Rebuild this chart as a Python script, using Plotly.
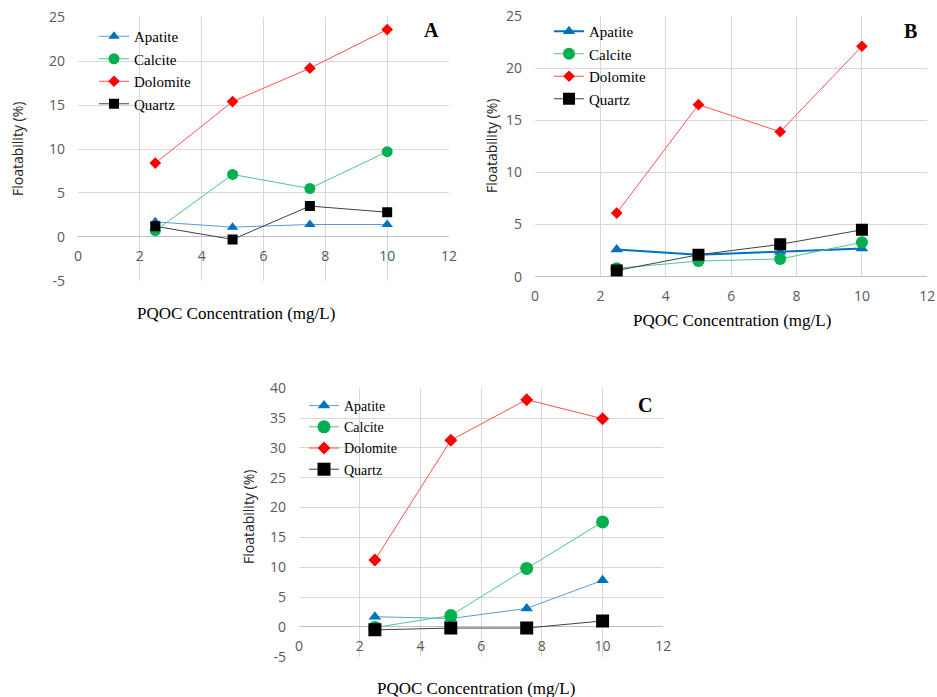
import plotly.graph_objects as go

W, H = 937, 697

x_conc = [2.5, 5, 7.5, 10]
series_names = ["Apatite", "Calcite", "Dolomite", "Quartz"]

# Panel A values
a_apatite = [1.7, 1.1, 1.4, 1.4]
a_calcite = [0.7, 7.1, 5.5, 9.7]
a_dolomite = [8.4, 15.4, 19.2, 23.6]
a_quartz = [1.2, -0.3, 3.5, 2.8]

# Panel B values
b_apatite = [2.6, 2.1, 2.4, 2.7]
b_calcite = [0.8, 1.5, 1.7, 3.3]
b_dolomite = [6.1, 16.5, 13.9, 22.1]
b_quartz = [0.6, 2.1, 3.1, 4.5]

# Panel C values
c_apatite = [1.7, 1.4, 3.1, 7.8]
c_calcite = [-0.1, 1.9, 9.8, 17.6]
c_dolomite = [11.2, 31.3, 38.1, 34.9]
c_quartz = [-0.5, -0.2, -0.2, 1.0]

x_ticks = [0, 2, 4, 6, 8, 10, 12]
x_tick_labels = ["0", "2", "4", "6", "8", "10", "12"]
a_y_ticks = [-5, 0, 5, 10, 15, 20, 25]
a_y_labels = ["-5", "0", "5", "10", "15", "20", "25"]
b_y_ticks = [0, 5, 10, 15, 20, 25]
b_y_labels = ["0", "5", "10", "15", "20", "25"]
c_y_ticks = [-5, 0, 5, 10, 15, 20, 25, 30, 35, 40]
c_y_labels = ["-5", "0", "5", "10", "15", "20", "25", "30", "35", "40"]

def px(x):
    return x / W

def py(y):
    return 1 - y / H

SERIF = "Liberation Serif"
SANS = "Open Sans"
GRID = "#D9D9D9"
TICKC = "#595959"

styles = {
    "Apatite": dict(mcolor="#0070C0", lcolor="#5B9BD5", symbol="triangle-up"),
    "Calcite": dict(mcolor="#00B050", lcolor="#4CC884", symbol="circle"),
    "Dolomite": dict(mcolor="#FF0000", lcolor="#FF5050", symbol="diamond"),
    "Quartz": dict(mcolor="#000000", lcolor="#404040", symbol="square"),
}

panels = [
    dict(key="A", data=[a_apatite, a_calcite, a_dolomite, a_quartz],
         sizes=[10, 11, 9, 10], widths=[1, 1, 1, 1], xa="x", ya="y", legend="legend"),
    dict(key="B", data=[b_apatite, b_calcite, b_dolomite, b_quartz],
         sizes=[11, 12, 9, 12], widths=[2, 1, 1, 1], xa="x2", ya="y2", legend="legend2"),
    dict(key="C", data=[c_apatite, c_calcite, c_dolomite, c_quartz],
         sizes=[11, 13, 10, 13], widths=[1, 1, 1, 1], xa="x3", ya="y3", legend="legend3"),
]

fig = go.Figure()
for p in panels:
    for name, vals, s, w in zip(series_names, p["data"], p["sizes"], p["widths"]):
        st = styles[name]
        lc = st["lcolor"] if not (p["key"] == "B" and name == "Apatite") else st["mcolor"]
        fig.add_trace(go.Scatter(
            x=x_conc, y=vals, name=name, mode="lines+markers",
            xaxis=p["xa"], yaxis=p["ya"], legend=p["legend"],
            line=dict(color=lc, width=w),
            marker=dict(color=st["mcolor"], symbol=st["symbol"], size=s, line=dict(width=0)),
        ))

tickfont = dict(family=SANS, size=14, color=TICKC)

def xaxis_cfg(x0, x1, anchor, position=None):
    d = dict(domain=[px(x0), px(x1)], range=[0, 12], tickvals=x_ticks, ticktext=x_tick_labels,
             showgrid=True, gridcolor=GRID, gridwidth=1, showline=False, zeroline=False, ticks="",
             tickfont=tickfont, ticklabelstandoff=9, fixedrange=True, automargin=False)
    if position is None:
        d["anchor"] = anchor
    else:
        d["anchor"] = "free"
        d["position"] = position
    return d

def yaxis_cfg(y_top, y_bot, rng, anchor, tv, tt):
    return dict(domain=[py(y_bot), py(y_top)], range=rng, tickvals=tv, ticktext=tt, showgrid=True,
                gridcolor=GRID, gridwidth=1, showline=False, zeroline=True,
                zerolinecolor="#BFBFBF", zerolinewidth=1, ticks="",
                tickfont=tickfont, ticklabelstandoff=12, anchor=anchor, fixedrange=True,
                automargin=False)

legend_common = dict(bgcolor="rgba(0,0,0,0)", borderwidth=0, xanchor="left", yanchor="top",
                     font=dict(family=SERIF, size=15, color="#000000"), tracegroupgap=0,
                     itemclick=False)

fig.update_layout(
    template="none",
    width=W, height=H, margin=dict(l=0, r=0, t=0, b=0, pad=0, autoexpand=False),
    paper_bgcolor="white", plot_bgcolor="white", showlegend=True,
    xaxis=xaxis_cfg(78, 449, "y", position=py(236.7)),
    yaxis=yaxis_cfg(17.3, 280.7, [-5, 25], "x", a_y_ticks, a_y_labels),
    xaxis2=xaxis_cfg(535, 927.3, "y2"),
    yaxis2=yaxis_cfg(16, 276.7, [0, 25], "x2", b_y_ticks, b_y_labels),
    xaxis3=xaxis_cfg(299, 663.3, "y3", position=py(627.3)),
    yaxis3=yaxis_cfg(388.3, 656.7, [-5, 40], "x3", c_y_ticks, c_y_labels),
    legend=dict(legend_common, x=px(94), y=py(20)),
    legend2=dict(legend_common, x=px(549), y=py(15)),
    legend3=dict(legend_common, x=px(304), y=py(390),
                 font=dict(family=SERIF, size=14, color="#000000")),
)

annotations = []
# Panel letters
for letter, lx, ly in [("A", 431, 30), ("B", 910, 31), ("C", 645, 405)]:
    annotations.append(dict(text="<b>%s</b>" % letter, x=px(lx), y=py(ly), xref="paper", yref="paper",
                            showarrow=False, xanchor="center", yanchor="middle",
                            font=dict(family=SERIF, size=20, color="#000000")))
# x axis titles
for tx, ty in [(236, 313), (732, 320), (476, 688)]:
    annotations.append(dict(text="PQOC Concentration (mg/L)", x=px(tx), y=py(ty), xref="paper", yref="paper",
                            showarrow=False, xanchor="center", yanchor="middle",
                            font=dict(family=SERIF, size=17, color="#000000")))
# y axis titles
for tx, ty in [(18, 149), (491, 146), (248, 517)]:
    annotations.append(dict(text="Floatability (%)", x=px(tx), y=py(ty), xref="paper", yref="paper",
                            showarrow=False, xanchor="center", yanchor="middle", textangle=-90,
                            font=dict(family=SANS, size=14, color="#262626")))
fig.update_layout(annotations=annotations)

fig.write_html(
    "out.html",
    config={"displayModeBar": False},
    post_script="document.body.style.margin='0';document.body.style.padding='0';"
                "document.body.style.overflow='hidden';",
)
